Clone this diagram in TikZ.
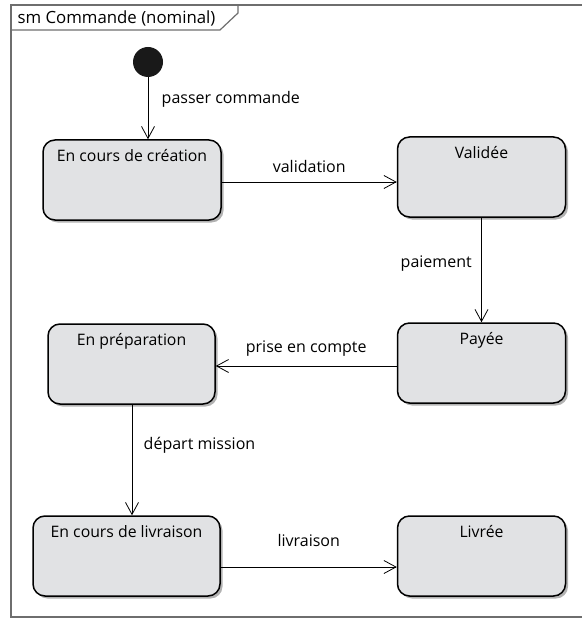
\documentclass[tikz,border=0pt]{standalone}
\usepackage{fontspec}
\setmainfont{Open Sans}
\usepackage{xcolor}
\usepackage{tikz}
\usetikzlibrary{arrows.meta, positioning, shadows}

\definecolor{statefill}{HTML}{E1E2E4}
\definecolor{framegray}{HTML}{6E6E6E}

\begin{document}
\begin{tikzpicture}[
  x=1pt, y=-1pt,
  state/.style={rectangle, draw, line width=1.5pt, rounded corners=12pt, fill=statefill,
                minimum width=#1, minimum height=80pt, inner sep=0pt,
                drop shadow={shadow xshift=2.5pt, shadow yshift=-2.5pt, fill=black!30, opacity=1}},
  state/.default=168pt,
  title/.style={anchor=north, yshift=-7pt, font=\fontsize{15.8}{18}\selectfont},
  arrow/.style={-{Straight Barb[length=12pt, width=13pt, line width=0.8pt]}, line width=0.8pt},
  lbl/.style={font=\fontsize{16}{18}\selectfont},
]
  \useasboundingbox (0,0) rectangle (581,620);

  % frame of the state machine
  \draw[framegray, line width=1.2pt] (582,5) -- (11,5) -- (11,617) -- (582,617);
  \draw[framegray, line width=1.2pt] (11,30) -- (220,30) -- (238,13) -- (238,5);
  \node[lbl, font=\fontsize{16.8}{18}\selectfont, anchor=west] (head) at (14,18) {sm Commande (nominal)};

  % initial pseudo state
  \node[circle, fill=black!90, minimum size=30pt, inner sep=0pt] (init) at (148,62) {};

  % states
  \node[state=178pt, label={[title]north:En cours de création}] (creation) at (132,180) {};
  \node[state, label={[title]north:Validée}] (validee) at (481.5,177) {};
  \node[state, label={[title]north:Payée}] (payee) at (481.5,363) {};
  \node[state=167pt, label={[title]north:En préparation}] (prep) at (131.5,364) {};
  \node[state=187pt, label={[title]north:En cours de livraison}] (livraison) at (126.5,556) {};
  \node[state, label={[title]north:Livrée}] (livree) at (481.5,556) {};

  % transitions
  \draw[arrow] (init) -- node[lbl, right=10pt, pos=0.35]{passer commande} (init |- creation.north);
  \draw[arrow] (creation.east |- 0,182) -- node[lbl, above=6pt]{validation} (validee.west |- 0,182);
  \draw[arrow] (validee) -- node[lbl, left=6pt, pos=0.44]{paiement} (payee);
  \draw[arrow] (payee.west |- 0,366) -- node[lbl, above=6pt]{prise en compte} (prep.east |- 0,366);
  \draw[arrow] (132,0 |- prep.south) -- node[lbl, right=8pt, pos=0.37]{départ mission} (132,0 |- livraison.north);
  \draw[arrow] (livraison.east |- 0,567) -- node[lbl, above=17pt]{livraison} (livree.west |- 0,567);
\end{tikzpicture}
\end{document}
